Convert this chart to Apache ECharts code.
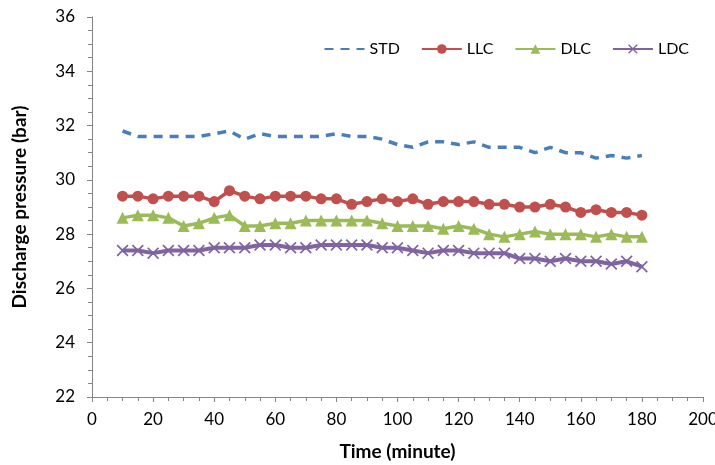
<!DOCTYPE html>
<html>
<head>
<meta charset="utf-8">
<script src="https://cdn.jsdelivr.net/npm/echarts@6/dist/echarts.min.js"></script>
<style>
  html, body { margin: 0; padding: 0; background: #fff; }
  #main { width: 715px; height: 465px; }
</style>
</head>
<body>
<div id="main"></div>
<script>
// time points (minute)
var times = [10, 15, 20, 25, 30, 35, 40, 45, 50, 55, 60, 65, 70, 75, 80, 85, 90, 95,
             100, 105, 110, 115, 120, 125, 130, 135, 140, 145, 150, 155, 160, 165, 170, 175, 180];

var std = [31.8, 31.6, 31.6, 31.6, 31.6, 31.6, 31.7, 31.8, 31.5, 31.7, 31.6, 31.6, 31.6, 31.6, 31.7, 31.6, 31.6, 31.5,
           31.3, 31.2, 31.4, 31.4, 31.3, 31.4, 31.2, 31.2, 31.2, 31.0, 31.2, 31.0, 31.0, 30.8, 30.9, 30.8, 30.9];
var llc = [29.4, 29.4, 29.3, 29.4, 29.4, 29.4, 29.2, 29.6, 29.4, 29.3, 29.4, 29.4, 29.4, 29.3, 29.3, 29.1, 29.2, 29.3,
           29.2, 29.3, 29.1, 29.2, 29.2, 29.2, 29.1, 29.1, 29.0, 29.0, 29.1, 29.0, 28.8, 28.9, 28.8, 28.8, 28.7];
var dlc = [28.6, 28.7, 28.7, 28.6, 28.3, 28.4, 28.6, 28.7, 28.3, 28.3, 28.4, 28.4, 28.5, 28.5, 28.5, 28.5, 28.5, 28.4,
           28.3, 28.3, 28.3, 28.2, 28.3, 28.2, 28.0, 27.9, 28.0, 28.1, 28.0, 28.0, 28.0, 27.9, 28.0, 27.9, 27.9];
var ldc = [27.4, 27.4, 27.3, 27.4, 27.4, 27.4, 27.5, 27.5, 27.5, 27.6, 27.6, 27.5, 27.5, 27.6, 27.6, 27.6, 27.6, 27.5,
           27.5, 27.4, 27.3, 27.4, 27.4, 27.3, 27.3, 27.3, 27.1, 27.1, 27.0, 27.1, 27.0, 27.0, 26.9, 27.0, 26.8];

function pairs(vals) {
  return times.map(function (t, i) { return [t, vals[i]]; });
}

var font = 'Lato, "Open Sans", sans-serif';
var crossPath = 'path://M0,1 L1,0 L5,4 L9,0 L10,1 L6,5 L10,9 L9,10 L5,6 L1,10 L0,9 L4,5 Z';

var chart = echarts.init(document.getElementById('main'));
chart.setOption({
  backgroundColor: '#fff',
  animation: false,
  textStyle: { fontFamily: font },
  grid: { left: 92, right: 12, top: 17, bottom: 68, outerBoundsMode: 'none', containLabel: false },
  legend: {
    top: 36,
    right: 21,
    itemWidth: 40,
    itemHeight: 12,
    itemGap: 21,
    textStyle: { fontSize: 16, color: '#000', fontFamily: font },
    data: [
      { name: 'STD', itemStyle: { opacity: 0 } },
      'LLC', 'DLC', 'LDC'
    ]
  },
  xAxis: {
    type: 'value',
    min: 0,
    max: 200,
    interval: 20,
    name: 'Time (minute)',
    nameLocation: 'middle',
    nameGap: 45,
    nameTextStyle: { fontSize: 19, fontWeight: 'bold', color: '#000', fontFamily: font },
    axisLine: { show: true, lineStyle: { color: '#868686', width: 1 } },
    axisTick: { show: true, length: 5, lineStyle: { color: '#868686' } },
    minorTick: { show: true, splitNumber: 4, length: 4, lineStyle: { color: '#868686' } },
    axisLabel: { fontSize: 17, color: '#000', margin: 14 },
    splitLine: { show: false }
  },
  yAxis: {
    type: 'value',
    min: 22,
    max: 36,
    interval: 2,
    name: 'Discharge pressure (bar)',
    nameLocation: 'middle',
    nameGap: 63,
    nameTextStyle: { fontSize: 19, fontWeight: 'bold', color: '#000', fontFamily: font },
    axisLine: { show: true, lineStyle: { color: '#868686', width: 1 } },
    axisTick: { show: true, length: 5, lineStyle: { color: '#868686' } },
    minorTick: { show: true, splitNumber: 4, length: 4, lineStyle: { color: '#868686' } },
    axisLabel: { fontSize: 17, color: '#000', margin: 17 },
    splitLine: { show: false }
  },
  series: [
    {
      name: 'STD', type: 'line', data: pairs(std),
      showSymbol: false, symbol: 'none',
      color: '#4A7EBB',
      lineStyle: { color: '#4A7EBB', width: 3.5, type: [9, 7], cap: 'butt' }
    },
    {
      name: 'LLC', type: 'line', data: pairs(llc),
      symbol: 'circle', symbolSize: 11,
      color: '#C0504D',
      itemStyle: { color: '#C0504D' },
      lineStyle: { color: '#C0504D', width: 3.5 }
    },
    {
      name: 'DLC', type: 'line', data: pairs(dlc),
      symbol: 'triangle', symbolSize: 12,
      color: '#9BBB59',
      itemStyle: { color: '#9BBB59' },
      lineStyle: { color: '#9BBB59', width: 3.5 }
    },
    {
      name: 'LDC', type: 'line', data: pairs(ldc),
      symbol: crossPath, symbolSize: 12,
      color: '#8064A2',
      itemStyle: { color: '#8064A2' },
      lineStyle: { color: '#8064A2', width: 4 }
    }
  ]
});
</script>
</body>
</html>
